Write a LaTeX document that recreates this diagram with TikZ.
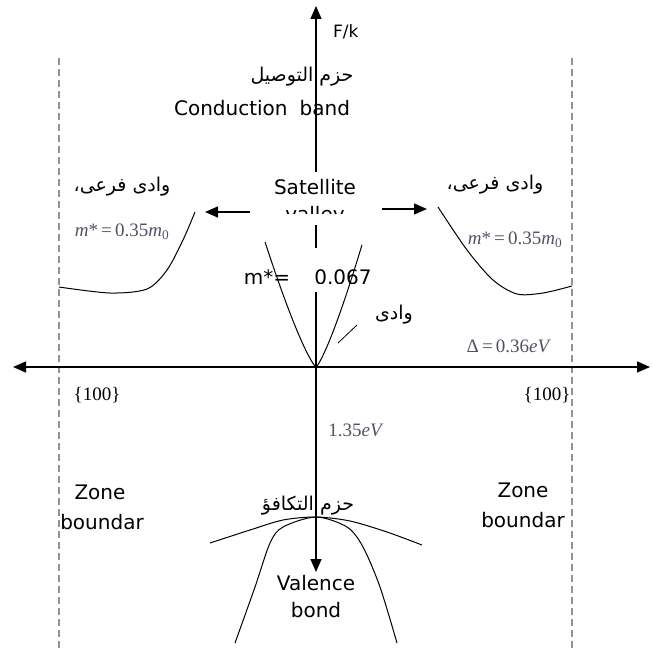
\documentclass[tikz,border=0pt]{standalone}
\usepackage{fontspec}
\setmainfont{DejaVu Sans}
\newfontfamily\arabicfont[Script=Arabic]{DejaVu Sans}
\newfontfamily\serifit{Liberation Serif}
\TeXXeTstate=1
\usetikzlibrary{arrows.meta}
\definecolor{mathgray}{RGB}{80,82,100}
\newcommand\myit[1]{{\itshape #1}}
\begin{document}
\begin{tikzpicture}[x=1pt,y=-1pt,
  axis/.style={line width=1.4pt},
  tipone/.style={-{Triangle[length=13pt,width=11pt]}},
  tipboth/.style={{Triangle[length=13pt,width=11pt]}-{Triangle[length=13pt,width=11pt]}},
  zone/.style={draw=gray!85, line width=2.6pt, dash pattern=on 7pt off 4pt},
  band/.style={line width=1pt},
  sans/.style={font=\fontsize{20}{24}\selectfont, inner sep=0pt},
  arab/.style={font=\arabicfont\fontsize{19}{22}\selectfont, inner sep=0pt},
  mth/.style={font=\serifit\fontsize{19}{22}\selectfont, text=mathgray, inner sep=0pt}]
\useasboundingbox (0,0) rectangle (652,650);

% zone boundaries
\coordinate (zlt) at (59,58);  \coordinate (zlb) at (59,650);
\coordinate (zrt) at (572,58); \coordinate (zrb) at (572,650);
\draw[zone] (zlt) -- (zlb);
\draw[zone] (zrt) -- (zrb);

% axes
\coordinate (o) at (316,367);
\coordinate (xl) at (13,367);
\coordinate (xr) at (650,367);
\coordinate (ytop) at (316,6);
\coordinate (ya) at (316,172);
\coordinate (yb) at (316,225);
\coordinate (yc) at (316,248);
\coordinate (yd) at (316,292);
\coordinate (ybot) at (316,572);
\draw[axis,tipboth] (xl) -- (xr);
\draw[axis,tipone] (ya) -- (ytop);
\draw[axis] (yb) -- (yc);
\draw[axis,tipone] (yd) -- (ybot);

% top labels
\node[sans, font=\fontsize{17}{20}\selectfont, anchor=west] (fk) at (333,32) {F/k};
\node[arab] (cbar) at (302,77) {\beginR حزم التوصيل\endR};
\node[sans] (cb) at (262,108) {Conduction\hspace{0.6em}band};

% satellite valley
\node[sans] (sat) at (315,187) {Satellite};
\begin{scope}
  \clip (250,195) rectangle (380,213);
  \node[sans] (val) at (315,216) {valley};
\end{scope}
\coordinate (la0) at (250,212); \coordinate (la1) at (205,212);
\coordinate (ra0) at (382,209); \coordinate (ra1) at (427,209);
\draw[axis,tipone] (la0) -- (la1);
\draw[axis,tipone] (ra0) -- (ra1);

% central valley
\draw[band] plot[domain=-51:0, samples=50] ({316+\x},{367-0.918*pow(abs(\x)+0.01,1.25)});
\draw[band] plot[domain=0:46, samples=50] ({316+\x},{367-1.02*pow(abs(\x)+0.01,1.25)});
\begin{scope}
  \clip (230,255) rectangle (400,283.5);
  \node[sans] (mg1) at (267,277) {m*=};
  \node[sans] (mg2) at (343,277) {0.067};
\end{scope}
\node[arab] (gv) at (394,315) {\beginR وادی\endR};
\coordinate (gp0) at (357,325); \coordinate (gp1) at (338,343);
\draw[line width=0.8pt] (gp0) -- (gp1);

% satellite valleys
\draw[band] plot[smooth] coordinates {(59,287) (110,293) (147,289) (167,270) (183,240) (195,212)};
\draw[band] plot[smooth] coordinates {(438,207) (467,250) (493,280) (517,294) (543,293) (572,286)};
\node[arab] (slar) at (122,187) {\beginR وادی فرعی،\endR};
\node[arab] (srar) at (495,185) {\beginR وادی فرعی،\endR};
\node[mth] (slm) at (122,232) {\myit{m}*\,=\,0.35\myit{m}\textsubscript{0}};
\node[mth] (srm) at (515,240) {\myit{m}*\,=\,0.35\myit{m}\textsubscript{0}};
\node[mth] (delta) at (508,346) {Δ\,=\,0.36\myit{eV}};

% (100)
\node[mth, text=black] (kl) at (97,395) {\{100\}};
\node[mth, text=black] (kr) at (547,395) {\{100\}};

% gap
\node[mth] (gap) at (355,430) {1.35\myit{eV}};

% zone boundary labels
\node[sans] (zl1) at (100,492) {Zone};
\node[sans] (zl2) at (102,522) {boundar};
\node[sans] (zr1) at (523,490) {Zone};
\node[sans] (zr2) at (523,520) {boundar};

% valence band
\draw[band] plot[smooth] coordinates {(210,543) (250,530) (283,520) (316,517) (350,521) (387,532) (422,545)};
\draw[band] plot[smooth] coordinates {(235,643) (255,587) (270,543) (283,527) (316,517) (347,527) (363,547) (380,587) (397,643)};
\node[arab] (vbar) at (308,506) {\beginR حزم التكافؤ\endR};
\node[sans] (vb1) at (316,583) {Valence};
\node[sans] (vb2) at (316,610) {bond};
\end{tikzpicture}
\end{document}
